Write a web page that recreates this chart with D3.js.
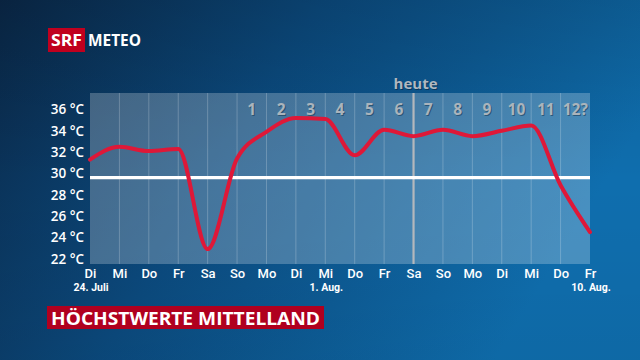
<!DOCTYPE html>
<html><head><meta charset="utf-8">
<script src="https://cdn.jsdelivr.net/npm/d3@7"></script>
<style>html,body{margin:0;padding:0;background:#0b2d50;}svg{display:block;}</style>
</head><body>
<svg id="c" width="640" height="360"></svg>
<script>
const days = ["Di","Mi","Do","Fr","Sa","So","Mo","Di","Mi","Do","Fr","Sa","So","Mo","Di","Mi","Do","Fr"];
const temps = [31.3, 32.5, 32.1, 32.3, 22.9, 31.4, 33.9, 35.2, 35.1, 31.7, 34.1, 33.5, 34.1, 33.5, 34.0, 34.5, 28.9, 24.5];
const yTicks = [22, 24, 26, 28, 30, 32, 34, 36];
const dayNumbers = ["1","2","3","4","5","6","7","8","9","10","11","12?"];
const dayNumberStart = 5; // number 1 sits between day index 5 and 6
const dateLabels = [{i:0, t:"24. Juli"}, {i:8, t:"1. Aug."}, {i:17, t:"10. Aug."}];
const threshold = 29.6;
const todayIndex = 11;

const svg = d3.select("#c");
const defs = svg.append("defs");
const bg = defs.append("linearGradient").attr("id","bg").attr("x1","0").attr("y1","0").attr("x2","1").attr("y2","0.35");
bg.append("stop").attr("offset","0").attr("stop-color","#0a2848");
bg.append("stop").attr("offset","0.45").attr("stop-color","#0b4a7e");
bg.append("stop").attr("offset","1").attr("stop-color","#0f6eae");
const vg = defs.append("linearGradient").attr("id","vg").attr("x1","0").attr("y1","0").attr("x2","0").attr("y2","1");
vg.append("stop").attr("offset","0").attr("stop-color","#000").attr("stop-opacity",0.12);
vg.append("stop").attr("offset","0.5").attr("stop-color","#000").attr("stop-opacity",0);
vg.append("stop").attr("offset","1").attr("stop-color","#000").attr("stop-opacity",0.05);

svg.append("rect").attr("width",640).attr("height",360).attr("fill","url(#bg)");
svg.append("rect").attr("width",640).attr("height",360).attr("fill","url(#vg)");

const x = d3.scaleLinear().domain([0, days.length-1]).range([90, 590]);
const y = d3.scaleLinear().domain([21.5, 37.55]).range([264, 93]);

// plot area
svg.append("rect").attr("x", x(0)).attr("y", y(37.55)).attr("width", x(days.length-1)-x(0)).attr("height", y(21.5)-y(37.55))
  .attr("fill","#ffffff").attr("fill-opacity",0.24);

// vertical grid lines
svg.append("g").selectAll("line").data(d3.range(1, days.length-1)).join("line")
  .attr("x1", d=>x(d)).attr("x2", d=>x(d)).attr("y1", y(37.55)).attr("y2", y(21.5))
  .attr("stroke","#ffffff").attr("stroke-opacity",0.22).attr("stroke-width",1);

// day numbers
const numG = svg.append("g").attr("font-family","'Open Sans', sans-serif").attr("font-weight","bold").attr("font-size",15.5).attr("text-anchor","middle");
dayNumbers.forEach((t,k)=>{
  const cx = (x(dayNumberStart+k) + x(dayNumberStart+k+1))/2;
  numG.append("text").attr("x",cx+1).attr("y",y(36)+6.5).attr("fill","#1a3a55").attr("fill-opacity",0.6).text(t);
  numG.append("text").attr("x",cx).attr("y",y(36)+5.5).attr("fill","#aab4bc").text(t);
});

// today line
svg.append("line").attr("x1",x(todayIndex)).attr("x2",x(todayIndex)).attr("y1",y(37.55)).attr("y2",y(21.5))
  .attr("stroke","#b4b8bc").attr("stroke-width",2.2);
svg.append("text").attr("x",x(todayIndex)+2+1).attr("y",89+1).attr("text-anchor","middle")
  .attr("font-family","'Open Sans', sans-serif").attr("font-weight","bold").attr("font-size",15).attr("fill","#0a2540").attr("fill-opacity",0.6).text("heute");
svg.append("text").attr("x",x(todayIndex)+2).attr("y",89).attr("text-anchor","middle")
  .attr("font-family","'Open Sans', sans-serif").attr("font-weight","bold").attr("font-size",15).attr("fill","#b0b8c0").text("heute");

// threshold line
svg.append("line").attr("x1",x(0)).attr("x2",x(days.length-1)).attr("y1",y(threshold)).attr("y2",y(threshold))
  .attr("stroke","#ffffff").attr("stroke-width",3.3);

// temperature curve
const line = d3.line().x((d,i)=>x(i)).y(d=>y(d)).curve(d3.curveMonotoneX);
svg.append("path").datum(temps).attr("d",line).attr("fill","none")
  .attr("stroke","#de1838").attr("stroke-width",4).attr("stroke-linejoin","round").attr("stroke-linecap","round");

// y axis labels
const yAxis = d3.axisLeft(y).tickValues(yTicks).tickSize(0).tickPadding(0).tickFormat(d=>d+" \u00B0C");
const yg = svg.append("g").attr("transform","translate(84,0)").call(yAxis);
yg.select(".domain").remove();
yg.selectAll("text").attr("fill","#ffffff").attr("font-family","'Open Sans', sans-serif").attr("font-weight",600).attr("font-size",13.5);

// x axis labels
const xAxis = d3.axisBottom(x).tickValues(d3.range(days.length)).tickSize(0).tickPadding(0).tickFormat(i=>days[i]);
const xg = svg.append("g").attr("transform","translate(0,0)").call(xAxis);
xg.select(".domain").remove();
xg.selectAll("text").attr("fill","#ffffff").attr("font-family","Roboto, sans-serif").attr("font-weight",500).attr("font-size",13).attr("y",277.5).attr("dy",null);

// date labels
svg.append("g").selectAll("text").data(dateLabels).join("text")
  .attr("x", d=>x(d.i)+1).attr("y",291).attr("text-anchor","middle")
  .attr("font-family","Roboto, sans-serif").attr("font-weight","bold").attr("font-size",10.5).attr("fill","#ffffff")
  .text(d=>d.t);

// title box
svg.append("rect").attr("x",47).attr("y",306).attr("width",277).attr("height",23).attr("fill","#b0001f");
svg.append("text").attr("x",51).attr("y",324.5).attr("font-family","'Open Sans', sans-serif").attr("font-weight","bold")
  .attr("font-size",18).attr("fill","#ffffff").attr("textLength",269).attr("lengthAdjust","spacingAndGlyphs").text("HÖCHSTWERTE MITTELLAND");

// logo
svg.append("rect").attr("x",48).attr("y",28).attr("width",37).attr("height",24).attr("fill","#c0001e");
svg.append("text").attr("x",66.5).attr("y",46).attr("text-anchor","middle").attr("font-family","'Open Sans', sans-serif").attr("font-weight","bold")
  .attr("font-size",16).attr("fill","#ffffff").attr("textLength",31).attr("lengthAdjust","spacingAndGlyphs").text("SRF");
svg.append("text").attr("x",88).attr("y",46).attr("font-family","'Open Sans', sans-serif").attr("font-weight","bold")
  .attr("font-size",16).attr("fill","#ffffff").attr("textLength",53).attr("lengthAdjust","spacingAndGlyphs").text("METEO");
</script>
</body></html>
